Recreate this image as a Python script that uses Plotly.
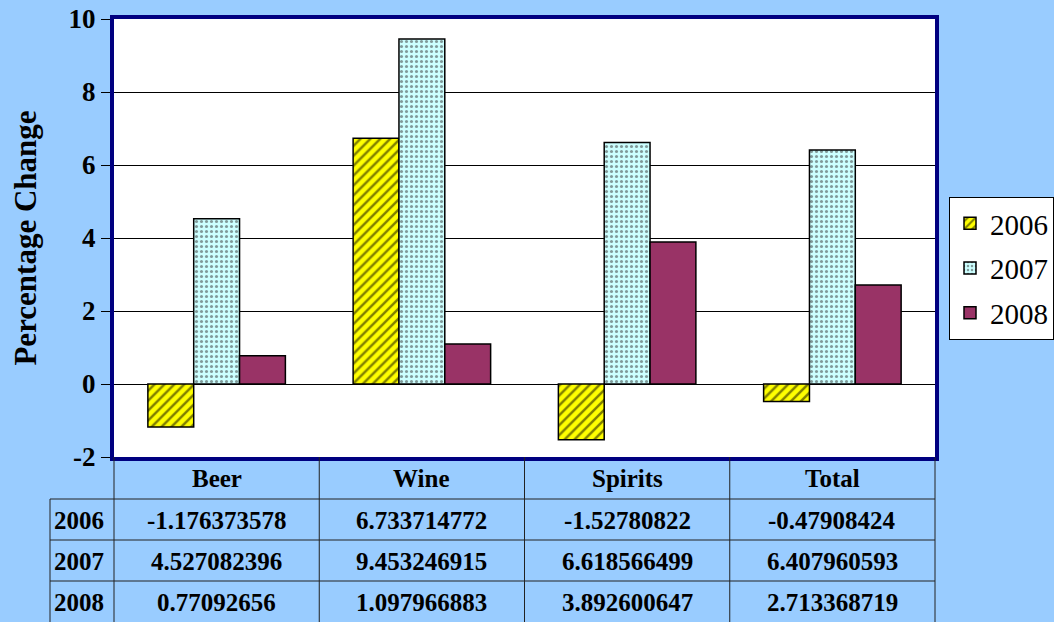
import plotly.graph_objects as go

categories = ["Beer", "Wine", "Spirits", "Total"]
years = ["2006", "2007", "2008"]
v2006 = [-1.176373578, 6.733714772, -1.52780822, -0.47908424]
v2007 = [4.527082396, 9.453246915, 6.618566499, 6.407960593]
v2008 = [0.77092656, 1.097966883, 3.892600647, 2.713368719]
series = [v2006, v2007, v2008]
y_ticks = [-2, 0, 2, 4, 6, 8, 10]

W, H = 1054, 622
L, R, T, B = 114, 119, 19, 165
plot_w = W - L - R
plot_h = H - T - B
FONT = "Liberation Serif"

styles = [
    dict(color="#FFFF00", pattern=dict(shape="/", fgcolor="#000000", bgcolor="#FFFF00",
                                       fillmode="overlay", size=7, solidity=0.35)),
    dict(color="#CCFFFF", pattern=dict(shape=".", fgcolor="#333333", bgcolor="#CCFFFF",
                                       fillmode="overlay", size=5, solidity=0.3)),
    dict(color="#993366"),
]

fig = go.Figure()
for yr, vals, st in zip(years, series, styles):
    fig.add_trace(go.Bar(
        x=categories, y=vals, name=yr, legendgroup=yr,
        marker=dict(**st, line=dict(color="#000000", width=1.5)),
    ))

def py(px_from_top):
    return (H - B - px_from_top) / plot_h

def pxp(px_from_left):
    return (px_from_left - L) / plot_w

annotations = []
shapes = []
line_col = "#222222"
TS = 25
hdr_top, hdr_bot = 457, 499
row_h = 41
rows_bot = hdr_bot + row_h * len(years)
col_w = plot_w / len(categories)

for i, c in enumerate(categories):
    annotations.append(dict(x=i, y=py((hdr_top + hdr_bot) / 2), xref="x", yref="paper",
                            xanchor="center", yanchor="middle",
                            text=f"<b>{c}</b>", showarrow=False,
                            font=dict(family=FONT, size=TS, color="black")))
for r, (yr, vals) in enumerate(zip(years, series)):
    yc = py(hdr_bot + row_h * r + row_h / 2 + 1)
    annotations.append(dict(x=pxp(52), y=yc, xref="paper", yref="paper",
                            xanchor="left", yanchor="middle",
                            text=f"<b>{yr}</b>", showarrow=False,
                            font=dict(family=FONT, size=TS, color="black")))
    for i, v in enumerate(vals):
        annotations.append(dict(x=i, y=yc, xref="x", yref="paper",
                                xanchor="center", yanchor="middle",
                                text=f"<b>{v}</b>", showarrow=False,
                                font=dict(family=FONT, size=TS, color="black")))
for i in range(len(categories) + 1):
    xx = pxp(L + col_w * i)
    shapes.append(dict(type="line", xref="paper", yref="paper", x0=xx, x1=xx,
                       y0=py(hdr_top), y1=py(rows_bot + 5), line=dict(color=line_col, width=1)))
shapes.append(dict(type="line", xref="paper", yref="paper", x0=pxp(50), x1=pxp(50),
                   y0=py(hdr_bot), y1=py(rows_bot + 5), line=dict(color=line_col, width=1)))
for r in range(len(years)):
    yy = py(hdr_bot + row_h * r)
    shapes.append(dict(type="line", xref="paper", yref="paper", x0=pxp(50), x1=1,
                       y0=yy, y1=yy, line=dict(color=line_col, width=1)))

fig.update_layout(
    width=W, height=H,
    margin=dict(l=L, r=R, t=T, b=B, autoexpand=False),
    paper_bgcolor="#99CCFF",
    plot_bgcolor="#FFFFFF",
    bargap=0.33, bargroupgap=0,
    font=dict(family=FONT, color="black"),
    xaxis=dict(range=[-0.5, 3.5], showticklabels=False, ticks="", showgrid=False,
               showline=True, linecolor="#000080", linewidth=4, mirror=True),
    yaxis=dict(range=[-2, 10], tickvals=y_ticks, ticktext=[f"<b>{t}</b>" for t in y_ticks],
               tickfont=dict(size=27, family=FONT, color="black"), ticks="outside", ticklen=9,
               tickcolor="#000000", showgrid=True, gridcolor="#000000", gridwidth=1,
               zeroline=True, zerolinecolor="#000000", zerolinewidth=1,
               showline=True, linecolor="#000080", linewidth=4, mirror=True,
               title=dict(text="<b>Percentage Change</b>",
                          font=dict(size=31, family=FONT, color="black"), standoff=24)),
    legend=dict(x=pxp(949), y=py(197), xanchor="left", yanchor="top",
                bgcolor="#FFFFFF", bordercolor="#000000", borderwidth=1,
                font=dict(size=29, family=FONT, color="black"), tracegroupgap=4,
                itemwidth=30),
    annotations=annotations,
    shapes=shapes,
)

fig.write_html("out.html", config={"displayModeBar": False},
               post_script="document.body.style.margin='0';document.body.style.padding='0';")
